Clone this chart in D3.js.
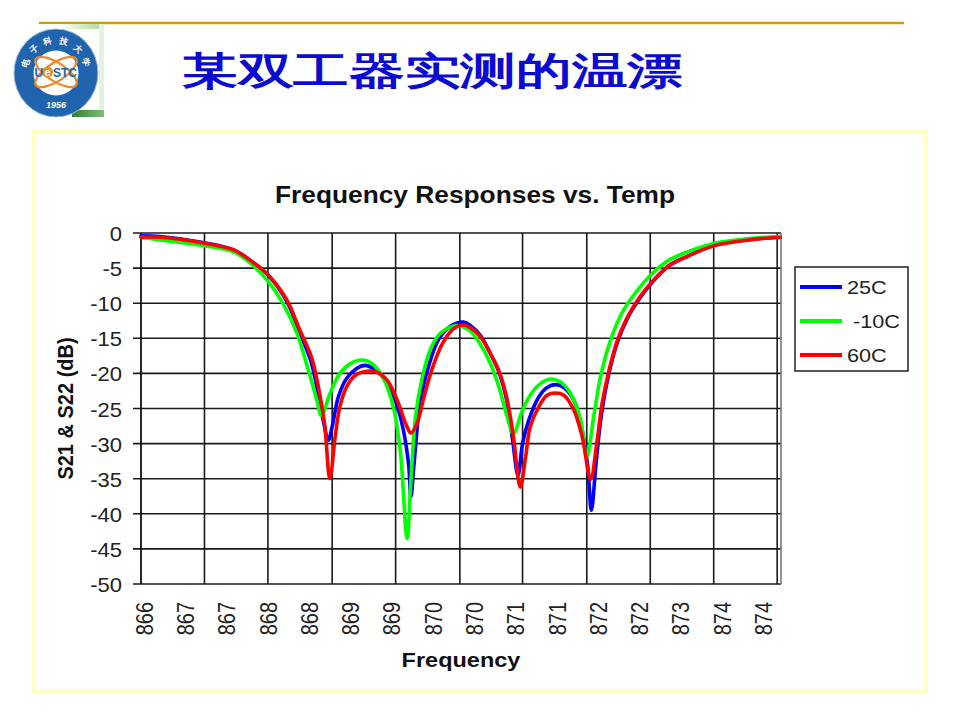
<!DOCTYPE html>
<html>
<head>
<meta charset="utf-8">
<script src="https://cdn.jsdelivr.net/npm/d3@7"></script>
<style>
  body { margin: 0; background: #fff; }
  svg { display: block; }
  text { font-family: "Liberation Sans", Arial, sans-serif; }
</style>
</head>
<body>
<svg id="page" width="960" height="720"></svg>
<script>
// series: [frequency (MHz), S21 & S22 (dB)]
const seriesNames = ["25C", " -10C", "60C"];
const seriesColors = ["#0000ff", "#00ff00", "#ff0000"];

const s25C = [
  [866.00, -0.4], [866.25, -0.5], [866.83, -1.4], [867.21, -2.4], [867.43, -3.9],
  [867.67, -6.1], [867.91, -9.8], [868.08, -14.3], [868.22, -18.2], [868.31, -22.5],
  [868.38, -26.5], [868.45, -29.5], [868.50, -27.6], [868.58, -23.4], [868.69, -20.7],
  [868.82, -19.3], [868.93, -18.85], [869.05, -19.4], [869.20, -21.0], [869.33, -24.0],
  [869.43, -28.0], [869.50, -33.0], [869.53, -37.6], [869.57, -33.0], [869.65, -24.3],
  [869.76, -19.0], [869.90, -15.0], [870.06, -13.2], [870.22, -12.7], [870.31, -13.2],
  [870.44, -14.6], [870.57, -17.2], [870.68, -19.8], [870.79, -24.2], [870.86, -29.5],
  [870.93, -34.5], [870.99, -30.0], [871.07, -26.7], [871.20, -23.4], [871.31, -22.0],
  [871.42, -21.6], [871.53, -22.0], [871.66, -23.8], [871.75, -27.1], [871.84, -33.0],
  [871.89, -39.5], [871.95, -33.0], [872.02, -26.0], [872.12, -20.0], [872.23, -15.6],
  [872.36, -12.2], [872.53, -9.2], [872.68, -7.1], [872.90, -4.7], [873.11, -3.5],
  [873.50, -1.75], [873.99, -0.9], [874.36, -0.55]
];

const sMinus10C = [
  [866.00, -0.6], [866.25, -1.0], [866.83, -1.8], [867.21, -2.7], [867.43, -4.3],
  [867.67, -7.0], [867.86, -10.1], [868.04, -14.3], [868.19, -19.6], [868.30, -23.8],
  [868.36, -26.0], [868.47, -22.9], [868.60, -20.0], [868.74, -18.6], [868.89, -18.1],
  [869.02, -18.6], [869.17, -20.7], [869.30, -24.8], [869.39, -30.9], [869.48, -43.5],
  [869.53, -35.2], [869.59, -26.2], [869.67, -21.0], [869.78, -16.7], [869.91, -14.3],
  [870.04, -13.4], [870.15, -13.2], [870.31, -14.0], [870.44, -15.9], [870.57, -18.6],
  [870.68, -21.9], [870.79, -26.2], [870.87, -28.6], [870.98, -25.5], [871.09, -23.1],
  [871.22, -21.5], [871.35, -20.8], [871.48, -21.2], [871.62, -22.9], [871.75, -26.7],
  [871.83, -31.9], [871.92, -26.2], [872.01, -20.5], [872.14, -15.3], [872.31, -11.0],
  [872.49, -8.2], [872.66, -6.05], [872.90, -3.9], [873.11, -2.85], [873.50, -1.47],
  [873.99, -0.75], [874.36, -0.5]
];

const s60C = [
  [866.00, -0.6], [866.25, -0.6], [866.83, -1.45], [867.21, -2.4], [867.43, -3.9],
  [867.67, -6.05], [867.91, -9.6], [868.08, -13.9], [868.23, -17.7], [868.32, -21.9],
  [868.40, -27.1], [868.47, -35.0], [868.54, -29.0], [868.60, -24.8], [868.69, -21.9],
  [868.80, -20.3], [868.95, -19.7], [869.08, -19.8], [869.22, -21.0], [869.35, -23.8],
  [869.46, -27.1], [869.53, -28.5], [869.61, -27.1], [869.70, -23.4], [869.80, -19.6],
  [869.94, -15.8], [870.09, -13.6], [870.22, -13.1], [870.31, -13.5], [870.44, -14.8],
  [870.57, -17.2], [870.68, -19.6], [870.79, -23.8], [870.87, -29.0], [870.96, -36.2],
  [871.03, -31.9], [871.09, -27.6], [871.20, -24.8], [871.31, -23.1], [871.42, -22.8],
  [871.53, -23.1], [871.66, -25.2], [871.77, -29.0], [871.88, -35.1], [871.96, -30.0],
  [872.03, -24.3], [872.12, -19.6], [872.23, -15.3], [872.36, -12.0], [872.53, -9.0],
  [872.68, -7.0], [872.90, -4.7], [873.11, -3.5], [873.50, -1.8], [873.99, -0.94],
  [874.36, -0.6]
];

// category axis labels (Excel rounds the frequency to whole MHz)
const xTickLabels = ["866", "867", "867", "868", "868", "869", "869", "870",
  "870", "871", "871", "872", "872", "873", "874", "874"];
const xTickFreqs = [866.02, 866.56, 867.10, 867.64, 868.18, 868.72, 869.26, 869.80,
  870.34, 870.88, 871.42, 871.96, 872.50, 873.04, 873.58, 874.12];
const gridFreqs = [866.83, 867.66, 868.50, 869.33, 870.17, 870.99, 871.83, 872.66,
  873.49, 874.32];
const yTicks = [0, -5, -10, -15, -20, -25, -30, -35, -40, -45, -50];

const pageTitle = "某双工器实测的温漂";
const chartTitle = "Frequency Responses vs. Temp";
const xTitle = "Frequency";
const yTitle = "S21 & S22 (dB)";
const ringChars = ["电", "子", "科", "技", "大", "学"];

const svg = d3.select("#page");

/** stretched text: the pasted chart is wider than tall */
function label(g, txt, x, y, opts) {
  const o = Object.assign({size: 20, sx: 1.12, anchor: "start", weight: "normal",
    fill: "#111", rot: 0}, opts || {});
  return g.append("text")
    .attr("transform", `translate(${x},${y}) scale(${o.sx},1)` +
      (o.rot ? ` rotate(${o.rot})` : ""))
    .attr("text-anchor", o.anchor)
    .attr("font-size", o.size)
    .attr("font-weight", o.weight)
    .attr("fill", o.fill)
    .attr("dy", o.dy || null)
    .attr("xml:space", "preserve")
    .style("white-space", "pre")
    .text(txt);
}

// ---- slide header ----
svg.append("line")
  .attr("x1", 39).attr("x2", 904).attr("y1", 23).attr("y2", 23)
  .attr("stroke", "#c9a000").attr("stroke-width", 2.5);

const defs = svg.append("defs");
const grad = defs.append("linearGradient").attr("id", "logoTop")
  .attr("x1", "0").attr("x2", "1").attr("y1", "0").attr("y2", "0");
grad.append("stop").attr("offset", "0").attr("stop-color", "#ffffff");
grad.append("stop").attr("offset", "1").attr("stop-color", "#a8d8a0");
const grad2 = defs.append("linearGradient").attr("id", "logoBot")
  .attr("x1", "0").attr("x2", "1").attr("y1", "0").attr("y2", "0");
grad2.append("stop").attr("offset", "0").attr("stop-color", "#2f7f35");
grad2.append("stop").attr("offset", "1").attr("stop-color", "#7cc07a");

const logo = svg.append("g");
const lc = {x: 56, y: 73};
logo.append("rect").attr("x", 14).attr("y", 24).attr("width", 90).attr("height", 93)
  .attr("fill", "#fff");
logo.append("rect").attr("x", 58).attr("y", 24).attr("width", 46).attr("height", 5)
  .attr("fill", "url(#logoTop)");
logo.append("rect").attr("x", 99).attr("y", 24).attr("width", 5).attr("height", 90)
  .attr("fill", "#e4f2e0");
logo.append("rect").attr("x", 72).attr("y", 110).attr("width", 32).attr("height", 7)
  .attr("fill", "url(#logoBot)");
logo.append("ellipse").attr("cx", lc.x).attr("cy", lc.y).attr("rx", 42).attr("ry", 44)
  .attr("fill", "#1f64ad").attr("stroke", "#9ab8dc").attr("stroke-width", 1);
logo.append("circle").attr("cx", lc.x).attr("cy", lc.y).attr("r", 22.5)
  .attr("fill", "#ffffff");
[-33, 33].forEach((a) => {
  logo.append("ellipse").attr("cx", lc.x).attr("cy", lc.y - 1).attr("rx", 24).attr("ry", 9)
    .attr("transform", `rotate(${a},${lc.x},${lc.y - 1})`)
    .attr("fill", "none").attr("stroke", "#ee8a2a").attr("stroke-width", 2.2);
});
logo.append("circle").attr("cx", 47.5).attr("cy", 72).attr("r", 5.5)
  .attr("fill", "#ee8a2a");
logo.append("text").attr("x", 34.5).attr("y", 76.5)
  .attr("font-size", 12).attr("font-weight", "bold").attr("fill", "#1f64ad")
  .text("U");
logo.append("text").attr("x", 47.5).attr("y", 76).attr("text-anchor", "middle")
  .attr("font-size", 11).attr("font-weight", "bold").attr("fill", "#fff")
  .text("e");
logo.append("text").attr("x", 53).attr("y", 76.5)
  .attr("font-size", 12).attr("font-weight", "bold").attr("fill", "#1f64ad")
  .text("STC");
// school name round the top of the ring
const ringAngle = d3.scalePoint().domain(d3.range(ringChars.length)).range([-72, 72]);
ringChars.forEach((c, i) => {
  const a = ringAngle(i);
  const r = (a * Math.PI) / 180;
  logo.append("text")
    .attr("transform", `translate(${lc.x + 32 * Math.sin(r)},${lc.y - 33 * Math.cos(r)}) rotate(${a})`)
    .attr("text-anchor", "middle").attr("dy", "0.35em")
    .attr("font-size", 8.5).attr("font-weight", "bold").attr("fill", "#fff")
    .attr("font-family", "'Noto Sans CJK SC'")
    .text(c);
});
logo.append("text").attr("x", lc.x).attr("y", 108).attr("text-anchor", "middle")
  .attr("font-size", 9).attr("font-style", "italic").attr("font-weight", "bold")
  .attr("fill", "#fff").text("1956");

svg.append("text")
  .attr("x", 182).attr("y", 84)
  .attr("textLength", 501).attr("lengthAdjust", "spacingAndGlyphs")
  .attr("font-family", "'Noto Sans CJK SC', sans-serif")
  .attr("font-size", 38).attr("font-weight", "bold")
  .attr("fill", "#0a0ad2")
  .text(pageTitle);

// ---- chart frame ----
svg.append("rect")
  .attr("x", 34).attr("y", 132).attr("width", 892).attr("height", 559)
  .attr("fill", "#fff").attr("stroke", "#ffffc4").attr("stroke-width", 4);

const x = d3.scaleLinear().domain([866, 874.37]).range([141, 781]);
const y = d3.scaleLinear().domain([-50, 0]).range([584, 233]);
const [x0, x1] = x.range();

const chart = svg.append("g");

label(chart, chartTitle, 475, 203, {size: 23.5, weight: "bold", anchor: "middle"});

// horizontal grid + outward ticks
chart.append("g").selectAll("line").data(yTicks).join("line")
  .attr("x1", x0 - 8).attr("x2", x1)
  .attr("y1", (d) => y(d)).attr("y2", (d) => y(d))
  .attr("stroke", "#1a1a1a").attr("stroke-width", 1.6);

// vertical grid
chart.append("g").selectAll("line").data(gridFreqs).join("line")
  .attr("x1", (d) => x(d)).attr("x2", (d) => x(d))
  .attr("y1", y(0)).attr("y2", y(-50))
  .attr("stroke", "#1a1a1a").attr("stroke-width", 1.6);

// axis line and right edge of the plot area
chart.append("line").attr("x1", x0).attr("x2", x0)
  .attr("y1", y(0)).attr("y2", y(-50))
  .attr("stroke", "#111").attr("stroke-width", 1.8);
chart.append("line").attr("x1", x1).attr("x2", x1)
  .attr("y1", y(0)).attr("y2", y(-50))
  .attr("stroke", "#777").attr("stroke-width", 1.6);

// y tick labels
yTicks.forEach((t) => {
  label(chart, String(t), x0 - 19, y(t), {size: 20, sx: 1.1, anchor: "end",
    dy: "0.4em", fill: "#222"});
});

// x tick labels, rotated up
xTickFreqs.forEach((f, i) => {
  label(chart, xTickLabels[i], x(f) + 1.5, y(-50) + 18, {size: 20, sx: 1.2,
    anchor: "end", rot: -90, dy: "0.36em", fill: "#222"});
});

label(chart, xTitle, (x0 + x1) / 2, 667, {size: 21, weight: "bold", anchor: "middle"});
label(chart, yTitle, 73, (y(0) + y(-50)) / 2, {size: 20, sx: 1.12, weight: "bold",
  anchor: "middle", rot: -90});

// curves
const line = d3.line()
  .x((d) => x(d[0]))
  .y((d) => y(d[1]))
  .curve(d3.curveCatmullRom.alpha(0.5));

[s25C, sMinus10C, s60C].forEach((s, i) => {
  chart.append("path")
    .datum(s)
    .attr("fill", "none")
    .attr("stroke", seriesColors[i])
    .attr("stroke-width", 3.6)
    .attr("stroke-linejoin", "round")
    .attr("stroke-linecap", "round")
    .attr("d", line);
});

// legend
const legend = chart.append("g");
legend.append("rect")
  .attr("x", 795).attr("y", 267).attr("width", 113).attr("height", 104)
  .attr("fill", "#fff").attr("stroke", "#222").attr("stroke-width", 1.5);
seriesNames.forEach((name, i) => {
  const ly = 287 + i * 34;
  legend.append("line")
    .attr("x1", 800).attr("x2", 842).attr("y1", ly).attr("y2", ly)
    .attr("stroke", seriesColors[i]).attr("stroke-width", 4);
  label(legend, name, 847, ly, {size: 19, sx: 1.14, dy: "0.36em", fill: "#222"});
});
</script>
</body>
</html>
